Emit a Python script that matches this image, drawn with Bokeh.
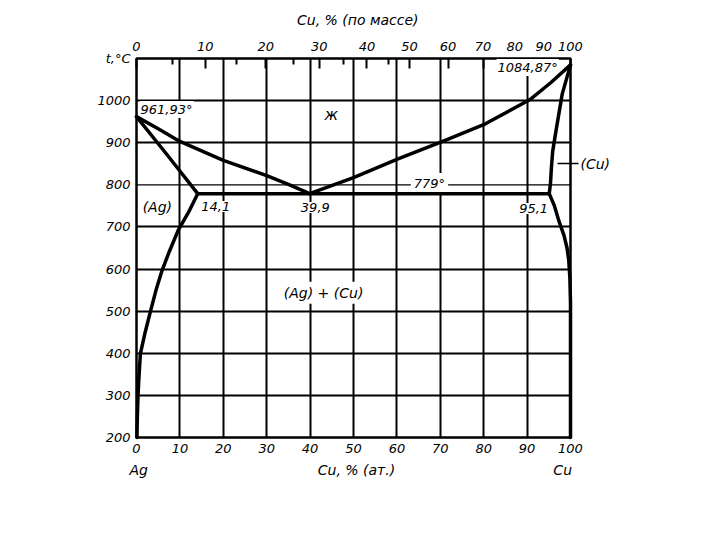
from bokeh.plotting import figure
from bokeh.models import Range1d, LinearAxis, FixedTicker, CustomJSTickFormatter, Label, Span
from bokeh.embed import file_html
from bokeh.resources import INLINE

# ---- data (Cu, at.% ; temperature, deg C) ----
ag_liq_x = [0, 5, 10, 20, 30, 35, 39.9]
ag_liq_t = [961.93, 933, 903, 858, 822, 801, 779]
cu_liq_x = [39.9, 50, 60.4, 70.7, 80.4, 90.6, 95.5, 100]
cu_liq_t = [779, 817, 862, 904, 945, 1002, 1043, 1084.87]
ag_sol_x = [0, 7, 14.1]
ag_sol_t = [961.93, 872, 779]
ag_solvus_x = [14.1, 12, 9.6, 7.5, 5.9, 4.5, 3.2, 2.0, 0.9, 0.6, 0.35, 0.2, 0.1]
ag_solvus_t = [779, 735, 692, 640, 597, 550, 499, 450, 399, 350, 300, 250, 200]
cu_sol_x = [100, 98.1, 96.8, 95.9, 95.6, 95.4, 95.1]
cu_sol_t = [1084.87, 1016, 937, 880, 840, 805, 779]
cu_solvus_x = [95.1, 96.3, 97.3, 98.5, 99.2, 99.6, 99.85, 100, 100]
cu_solvus_t = [779, 750, 715, 680, 650, 620, 580, 520, 200]
eut_x = [14.1, 95.1]
eut_t = [779, 779]

at_ticks = list(range(0, 101, 10))
t_ticks = list(range(200, 1101, 100))
t_grid = [200, 300, 400, 500, 600, 700, 900, 1000, 1100]
wt_major = list(range(0, 101, 10))
wt_minor = [5, 15, 25, 35, 45]

M_CU, M_AG = 63.546, 107.868


def wt_to_at(w):
    a = w / M_CU
    b = (100 - w) / M_AG
    return 100 * a / (a + b)


FONT = "DejaVu Sans"
FS = "13px"

p = figure(width=704, height=524, output_backend="svg", toolbar_location=None,
           x_range=Range1d(0, 100), y_range=Range1d(200, 1100),
           min_border_left=136, min_border_right=134, min_border_top=58, min_border_bottom=87,
           background_fill_color="white", border_fill_color="white")
p.outline_line_color = "black"
p.outline_line_width = 2.5


def style_axis(ax, standoff, size=FS):
    ax.axis_line_color = None
    ax.major_tick_line_color = None
    ax.minor_tick_line_color = None
    ax.major_label_standoff = standoff
    ax.major_label_text_font = FONT
    ax.major_label_text_font_style = "italic"
    ax.major_label_text_font_size = size
    ax.major_label_text_color = "black"


# bottom axis: at.%
xa = p.xaxis[0]
xa.ticker = FixedTicker(ticks=at_ticks)
style_axis(xa, 0)

# second bottom row: element names and axis title
bottom2 = LinearAxis(ticker=FixedTicker(ticks=[0.5, 51.2, 98.2]),
                     major_label_overrides={0.5: "Ag", 51.2: "Cu, %  (ат.)", 98.2: "Cu"})
style_axis(bottom2, 0, "14px")
p.add_layout(bottom2, "below")

# left axis
ya = p.yaxis[0]
ya.ticker = FixedTicker(ticks=t_ticks)
ya.major_label_overrides = {1100: "t,°C"}
style_axis(ya, 0)

# top axis: wt.%
top = LinearAxis(
    ticker=FixedTicker(ticks=[wt_to_at(w) for w in wt_major],
                       minor_ticks=[wt_to_at(w) for w in wt_minor]),
    formatter=CustomJSTickFormatter(code="""
        const a = tick;
        const w = 100*a*63.546/(a*63.546 + (100-a)*107.868);
        return Math.round(w).toString();
    """))
style_axis(top, 8)
top.major_tick_line_color = "black"
top.minor_tick_line_color = "black"
top.major_tick_in = 10
top.major_tick_out = 0
top.minor_tick_in = 6
top.minor_tick_out = 0
top.major_tick_line_width = 2
top.minor_tick_line_width = 2
p.add_layout(top, "above")

top2 = LinearAxis(ticker=FixedTicker(ticks=[51.5]),
                  major_label_overrides={51.5: "Cu, %  (по массе)"})
style_axis(top2, 5, "14px")
p.add_layout(top2, "above")

# right axis: (Cu) pointer
right = LinearAxis(ticker=FixedTicker(ticks=[850.6]),
                   major_label_overrides={850.6: "(Cu)"})
style_axis(right, 2, "14px")
right.major_tick_line_color = "black"
right.major_tick_line_width = 1.5
right.major_tick_in = 13
right.major_tick_out = 8
p.add_layout(right, "right")

# grid
p.xgrid.ticker = FixedTicker(ticks=at_ticks)
p.ygrid.ticker = FixedTicker(ticks=t_grid)
for g in (p.xgrid, p.ygrid):
    g.grid_line_color = "black"
    g.grid_line_width = 2
    g.grid_line_alpha = 1
p.add_layout(Span(location=800, dimension="width", line_color="black", line_width=1.3))


def lab(x, y, text, align="center", size=FS, bg=True, pad=1):
    l = Label(x=x, y=y, text=text, text_align=align, text_baseline="middle",
              text_font=FONT, text_font_style="italic", text_font_size=size,
              text_color="black",
              background_fill_color="white" if bg else None, padding=pad)
    p.add_layout(l)


lab(0.7, 979, "961,93°", align="left")
lab(44.9, 965, "ж", size="15px", bg=False)
lab(97.3, 1078.6, "1084,87°", align="right")
lab(4.8, 748.5, "(Ag)", size="14px")
lab(14.7, 748.5, "14,1", align="left")
lab(41.2, 746, "39,9")
lab(67.5, 803, "779°", pad=3)
lab(91.5, 744, "95,1")
lab(43.1, 544, "(Ag) + (Cu)", size="14px", pad=3)

# curves
curves = [(ag_liq_x, ag_liq_t), (cu_liq_x, cu_liq_t), (ag_sol_x, ag_sol_t),
          (ag_solvus_x, ag_solvus_t), (cu_sol_x, cu_sol_t), (cu_solvus_x, cu_solvus_t),
          (eut_x, eut_t)]
for xs, ts in curves:
    r = p.line(xs, ts, line_color="black", line_width=3.5, line_join="round", line_cap="round")
    r.level = "overlay"

open("out.html", "w").write(file_html(p, INLINE))
